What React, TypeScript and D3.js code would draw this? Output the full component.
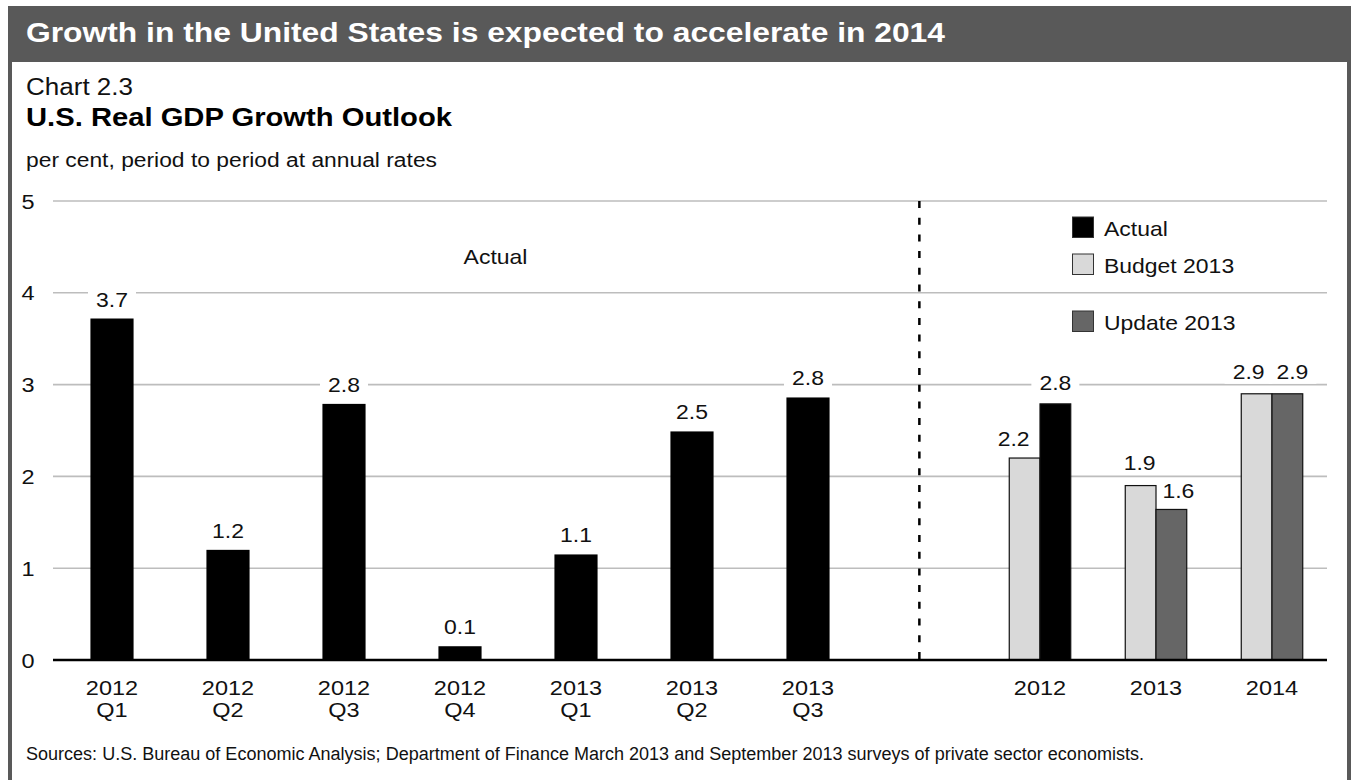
import React from "react";
import * as d3 from "d3";

// ---------- data ----------
const quarterYears = ["2012", "2012", "2012", "2012", "2013", "2013", "2013"];
const quarterNames = ["Q1", "Q2", "Q3", "Q4", "Q1", "Q2", "Q3"];
const quarterlyActual = [3.72, 1.2, 2.79, 0.15, 1.15, 2.49, 2.86];
const quarterlyLabels = ["3.7", "1.2", "2.8", "0.1", "1.1", "2.5", "2.8"];

const annualYears = ["2012", "2013", "2014"];
const budget2013 = [2.2, 1.9, 2.9];
const budget2013Labels = ["2.2", "1.9", "2.9"];
// second bar of each pair: 2012 is the actual outcome, 2013/2014 are Update 2013
const secondSeries = [2.79, 1.64, 2.9];
const secondSeriesLabels = ["2.8", "1.6", "2.9"];
const secondSeriesKind = ["Actual", "Update 2013", "Update 2013"];

const yTicks = [0, 1, 2, 3, 4, 5];
const legendItems = ["Actual", "Budget 2013", "Update 2013"];

const COLORS: Record<string, string> = {
  Actual: "#000000",
  "Budget 2013": "#d9d9d9",
  "Update 2013": "#666666",
};

// small label nudges (styling) so paired labels do not collide
const BUDGET_LABEL_DX = [-11, -1, -8];
const SECOND_LABEL_DX = [0, 7, 5];
const BUDGET_LABEL_GAP = [12, 16, 15];
const SECOND_LABEL_GAP = [14, 11, 15];

const FONT = "'Liberation Sans', Arial, Helvetica, sans-serif";
const W = 1351;
const H = 780;
const SX = 1.12;

const T = ({ x, y, sx = SX, anchor = "middle", size = 21, weight = "normal", fill = "#111", children }: any) => (
  <g transform={`translate(${x},${y}) scale(${sx},1)`}>
    <text x={0} y={0} textAnchor={anchor} fontSize={size} fontWeight={weight} fill={fill} fontFamily={FONT}>
      {children}
    </text>
  </g>
);

export default function App() {
  const qKeys = quarterYears.map((y, i) => `${y}${quarterNames[i]}`);
  const aKeys = annualYears.map((y) => `A${y}`);
  const domain = [...qKeys, "gap", ...aKeys];

  const x = d3.scaleBand<string>().domain(domain).range([54, 1330]).padding(0);
  const y = d3.scaleLinear().domain([0, 5]).range([660, 201]);
  const step = x.bandwidth();
  const qBarW = step * 0.372;
  const pairW = step * 0.53;
  const halfW = pairW / 2;

  const plotLeft = 53;
  const plotRight = 1327;
  const dividerX = (x("gap") as number) + step * 0.46;

  const labelRectW = 48;

  const valueLabels: { cx: number; by: number; t: string }[] = [];
  qKeys.forEach((k, i) => {
    valueLabels.push({ cx: (x(k) as number) + step / 2, by: y(quarterlyActual[i]) - 12, t: quarterlyLabels[i] });
  });
  aKeys.forEach((k, i) => {
    const c = (x(k) as number) + step / 2;
    valueLabels.push({ cx: c - halfW / 2 + BUDGET_LABEL_DX[i], by: y(budget2013[i]) - BUDGET_LABEL_GAP[i], t: budget2013Labels[i] });
    valueLabels.push({ cx: c + halfW / 2 + SECOND_LABEL_DX[i], by: y(secondSeries[i]) - SECOND_LABEL_GAP[i], t: secondSeriesLabels[i] });
  });

  return (
    <svg width={W} height={H} style={{ position: "absolute", left: 0, top: 0, background: "#fff" }}>
      {/* frame */}
      <rect x={8} y={6} width={W - 8} height={56} fill="#595959" />
      <rect x={8} y={6} width={4} height={H} fill="#595959" />
      <rect x={1347} y={6} width={4} height={H} fill="#595959" />

      <text x={26} y={42} fontSize={27} fontWeight="bold" fill="#fff" fontFamily={FONT} textLength={919} lengthAdjust="spacingAndGlyphs">
        Growth in the United States is expected to accelerate in 2014
      </text>
      <text x={26} y={95} fontSize={23} fill="#111" fontFamily={FONT} textLength={107} lengthAdjust="spacingAndGlyphs">
        Chart 2.3
      </text>
      <text x={26} y={126} fontSize={26} fontWeight="bold" fill="#000" fontFamily={FONT} textLength={426} lengthAdjust="spacingAndGlyphs">
        U.S. Real GDP Growth Outlook
      </text>
      <text x={26} y={167} fontSize={20} fill="#111" fontFamily={FONT} textLength={411} lengthAdjust="spacingAndGlyphs">
        per cent, period to period at annual rates
      </text>

      {/* gridlines */}
      {yTicks.filter((t) => t > 0).map((t) => (
        <line key={`g${t}`} x1={plotLeft} x2={plotRight} y1={y(t)} y2={y(t)} stroke="#bdbdbd" strokeWidth={1.6} />
      ))}
      {/* y tick labels */}
      {yTicks.map((t) => (
        <T key={`yt${t}`} x={28} y={y(t) + 7.5}>
          {t}
        </T>
      ))}

      {/* label backgrounds to break gridlines */}
      {valueLabels.map((d, i) => (
        <rect key={`lb${i}`} x={d.cx - labelRectW / 2} y={d.by - 19} width={labelRectW} height={24} fill="#fff" />
      ))}

      {/* annotation */}
      <T x={495.5} y={264} size={20.5}>
        Actual
      </T>

      {/* quarterly bars */}
      {qKeys.map((k, i) => {
        const cx = (x(k) as number) + step / 2;
        return (
          <rect key={k} x={cx - qBarW / 2} y={y(quarterlyActual[i])} width={qBarW} height={y(0) - y(quarterlyActual[i])} fill={COLORS.Actual} />
        );
      })}

      {/* annual bars */}
      {aKeys.map((k, i) => {
        const cx = (x(k) as number) + step / 2;
        return (
          <g key={k}>
            <rect x={cx - halfW} y={y(budget2013[i])} width={halfW} height={y(0) - y(budget2013[i])} fill={COLORS["Budget 2013"]} stroke="#111" strokeWidth={1.2} />
            <rect x={cx} y={y(secondSeries[i])} width={halfW} height={y(0) - y(secondSeries[i])} fill={COLORS[secondSeriesKind[i]]} stroke="#111" strokeWidth={1.2} />
          </g>
        );
      })}

      {/* value labels */}
      {valueLabels.map((d, i) => (
        <T key={`vl${i}`} x={d.cx} y={d.by} size={20.5}>
          {d.t}
        </T>
      ))}

      {/* divider */}
      <line x1={dividerX} x2={dividerX} y1={201} y2={660} stroke="#000" strokeWidth={2.5} strokeDasharray="7,9.7" />

      {/* baseline */}
      <line x1={plotLeft} x2={plotRight} y1={y(0)} y2={y(0)} stroke="#000" strokeWidth={2.5} />

      {/* x labels */}
      {qKeys.map((k, i) => {
        const cx = (x(k) as number) + step / 2;
        return (
          <g key={`xl${k}`}>
            <T x={cx} y={695}>
              {quarterYears[i]}
            </T>
            <T x={cx} y={717}>
              {quarterNames[i]}
            </T>
          </g>
        );
      })}
      {aKeys.map((k, i) => (
        <T key={`xa${k}`} x={(x(k) as number) + step / 2} y={695}>
          {annualYears[i]}
        </T>
      ))}

      {/* legend */}
      {legendItems.map((name, i) => {
        const ly = [217, 254, 311][i];
        return (
          <g key={name}>
            <rect x={1072.5} y={ly} width={21} height={20.5} fill={COLORS[name]} stroke="#333" strokeWidth={1} />
            <T x={1104} y={ly + 19} anchor="start" size={20.5}>
              {name}
            </T>
          </g>
        );
      })}

      {/* source */}
      <text x={26} y={760} fontSize={18} fill="#111" fontFamily={FONT} textLength={1118} lengthAdjust="spacingAndGlyphs">
        Sources: U.S. Bureau of Economic Analysis; Department of Finance March 2013 and September 2013 surveys of private sector economists.
      </text>
    </svg>
  );
}
